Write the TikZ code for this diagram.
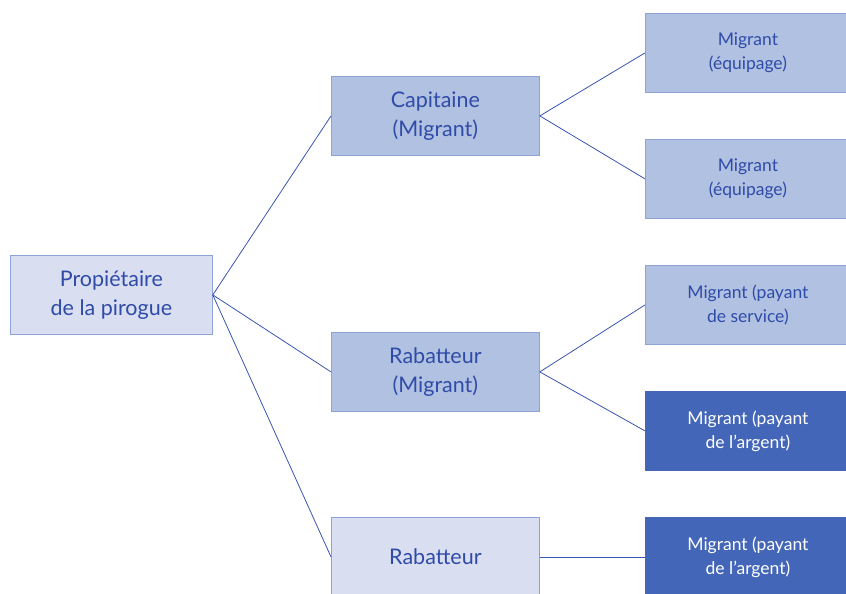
\documentclass[tikz,border=0pt]{standalone}
\usepackage{fontspec}
\setmainfont{Lato}
\definecolor{txt}{HTML}{2F4BA8}
\definecolor{lnc}{HTML}{3A55B0}
\definecolor{lightf}{HTML}{D9DEF1}
\definecolor{medf}{HTML}{B1C1E2}
\definecolor{darkf}{HTML}{4466B8}
\definecolor{bord}{HTML}{8EA2D8}
\begin{document}
\begin{tikzpicture}[x=1pt,y=-1pt,
  box/.style={draw=bord, line width=0.8pt, anchor=north west, inner sep=0pt, align=center, text=txt},
  lightbox/.style={box, fill=lightf},
  medbox/.style={box, fill=medf},
  darkbox/.style={box, fill=darkf, draw=darkf, text=white},
  big/.style={font=\fontsize{21.5}{29}\selectfont},
  small/.style={font=\fontsize{17.5}{24}\selectfont},
  conn/.style={draw=lnc, line width=0.8pt}]
\useasboundingbox (0,0) rectangle (846,594);
\clip (0,0) rectangle (846,594);
\node[lightbox, big, minimum width=202, minimum height=79] (root) at (10,255) {Propiétaire\\de la pirogue};
\node[medbox, big, minimum width=208, minimum height=79] (cap) at (331,76) {Capitaine\\(Migrant)};
\node[medbox, big, minimum width=208, minimum height=79] (rabm) at (331,332) {Rabatteur\\(Migrant)};
\node[lightbox, big, minimum width=208, minimum height=79] (rab) at (331,517) {Rabatteur};
\node[medbox, small, minimum width=205, minimum height=79] (m1) at (645,13) {Migrant\\(équipage)};
\node[medbox, small, minimum width=205, minimum height=79] (m2) at (645,139) {Migrant\\(équipage)};
\node[medbox, small, minimum width=205, minimum height=79] (m3) at (645,265) {Migrant (payant\\de service)};
\node[darkbox, small, minimum width=205, minimum height=79] (m4) at (645,391) {Migrant (payant\\de l'argent)};
\node[darkbox, small, minimum width=205, minimum height=79] (m5) at (645,517) {Migrant (payant\\de l'argent)};
\draw[conn] (root.east) -- (cap.west);
\draw[conn] (root.east) -- (rabm.west);
\draw[conn] (root.east) -- (rab.west);
\draw[conn] (cap.east) -- (m1.west);
\draw[conn] (cap.east) -- (m2.west);
\draw[conn] (rabm.east) -- (m3.west);
\draw[conn] (rabm.east) -- (m4.west);
\draw[conn] (rab.east) -- (m5.west);
\end{tikzpicture}
\end{document}
